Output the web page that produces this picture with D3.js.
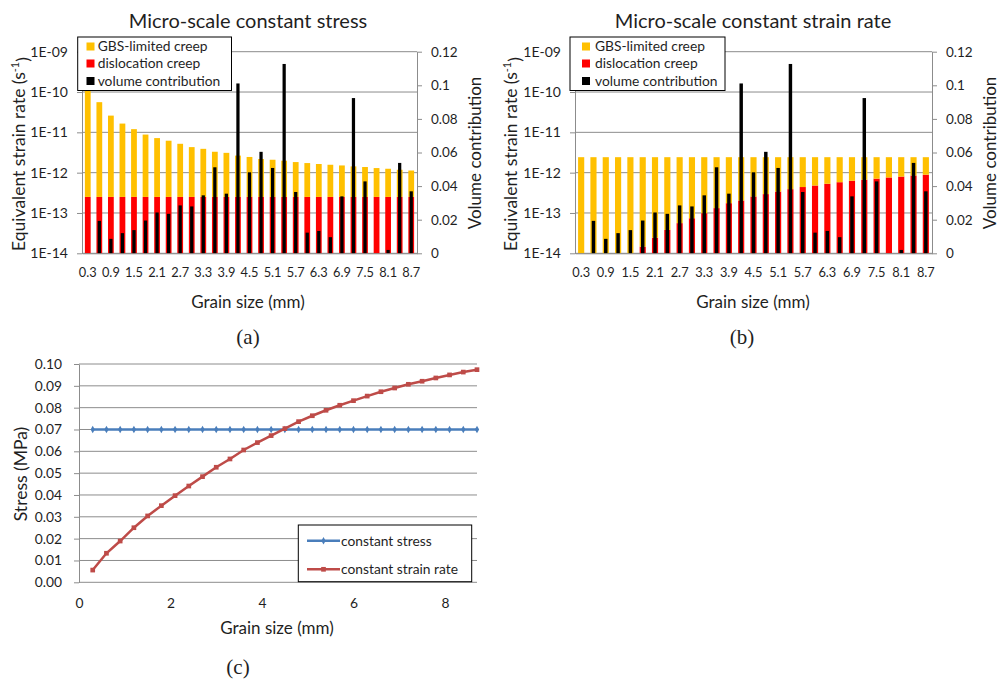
<!DOCTYPE html>
<html>
<head>
<meta charset="utf-8">
<script src="https://cdn.jsdelivr.net/npm/d3@7"></script>
<style>
  body { margin: 0; background: #fff; }
  svg { display: block; font-family: Lato, 'Open Sans', sans-serif; }
</style>
</head>
<body>
<svg id="chart" width="999" height="679"></svg>
<script>
// grain sizes (mm) shared by all three panels
const grainSizes = [0.3, 0.6, 0.9, 1.2, 1.5, 1.8, 2.1, 2.4, 2.7, 3.0, 3.3, 3.6, 3.9, 4.2, 4.5,
                    4.8, 5.1, 5.4, 5.7, 6.0, 6.3, 6.6, 6.9, 7.2, 7.5, 7.8, 8.1, 8.4, 8.7];
const barTickLabels = [0.3, 0.9, 1.5, 2.1, 2.7, 3.3, 3.9, 4.5, 5.1, 5.7, 6.3, 6.9, 7.5, 8.1, 8.7];

// (a) constant stress
const dislocationA = [2.5e-13, 2.5e-13, 2.5e-13, 2.5e-13, 2.5e-13, 2.5e-13, 2.5e-13, 2.5e-13, 2.5e-13, 2.5e-13,
                      2.5e-13, 2.5e-13, 2.5e-13, 2.5e-13, 2.5e-13, 2.5e-13, 2.5e-13, 2.5e-13, 2.5e-13, 2.5e-13,
                      2.5e-13, 2.5e-13, 2.5e-13, 2.5e-13, 2.5e-13, 2.5e-13, 2.5e-13, 2.5e-13, 2.5e-13];
const gbsA = [2.2e-10, 5.575e-11, 2.575e-11, 1.625e-11, 1.175e-11, 8.55e-12, 6.95e-12, 5.95e-12, 4.95e-12, 4.05e-12,
              3.65e-12, 3.05e-12, 2.85e-12, 2.4e-12, 2.2e-12, 1.93e-12, 1.84e-12, 1.73e-12, 1.58e-12, 1.48e-12,
              1.39e-12, 1.32e-12, 1.26e-12, 1.18e-12, 1.13e-12, 1.05e-12, 1.0e-12, 9.3e-13, 8.8e-13];

// (b) constant strain rate
const dislocationB = [1e-16, 6e-16, 2e-15, 4e-15, 8e-15, 1.46e-14, 2.44e-14, 3.8e-14, 5.6e-14, 7.4e-14,
                      9.9e-14, 1.32e-13, 1.75e-13, 2.04e-13, 2.56e-13, 2.94e-13, 3.4e-13, 3.9e-13, 4.4e-13, 4.8e-13,
                      5.3e-13, 5.8e-13, 6.3e-13, 6.7e-13, 7.1e-13, 7.6e-13, 8.0e-13, 8.5e-13, 8.9e-13];
const gbsB = [2.42e-12, 2.419e-12, 2.418e-12, 2.416e-12, 2.412e-12, 2.405e-12, 2.396e-12, 2.382e-12, 2.364e-12, 2.346e-12,
              2.321e-12, 2.288e-12, 2.245e-12, 2.216e-12, 2.164e-12, 2.126e-12, 2.08e-12, 2.03e-12, 1.98e-12, 1.94e-12,
              1.89e-12, 1.84e-12, 1.79e-12, 1.75e-12, 1.71e-12, 1.66e-12, 1.62e-12, 1.57e-12, 1.53e-12];

// volume contribution (same in a and b)
const volume = [0, 0.0193, 0.0086, 0.012, 0.0138, 0.0195, 0.0243, 0.0235, 0.0285, 0.0279,
                0.0345, 0.0512, 0.0355, 0.1011, 0.0482, 0.0604, 0.0508, 0.1127, 0.0365, 0.0123,
                0.0133, 0.0096, 0.0339, 0.0924, 0.0428, 0, 0.002, 0.0538, 0.0369];

// (c) stress
const stressConstStress = [0.07, 0.07, 0.07, 0.07, 0.07, 0.07, 0.07, 0.07, 0.07, 0.07,
                           0.07, 0.07, 0.07, 0.07, 0.07, 0.07, 0.07, 0.07, 0.07, 0.07,
                           0.07, 0.07, 0.07, 0.07, 0.07, 0.07, 0.07, 0.07, 0.07];
const stressConstRate = [0.0056, 0.0133, 0.0189, 0.025, 0.0304, 0.0351, 0.0397, 0.0441, 0.0484, 0.0527,
                         0.0565, 0.0606, 0.064, 0.0672, 0.0704, 0.0736, 0.0763, 0.0788, 0.0811, 0.0832,
                         0.0853, 0.0873, 0.089, 0.0907, 0.0921, 0.0936, 0.095, 0.0963, 0.0974];

const rateTicks = [1e-14, 1e-13, 1e-12, 1e-11, 1e-10, 1e-9];
const volumeTicks = [0, 0.02, 0.04, 0.06, 0.08, 0.1, 0.12];
const stressTicks = [0, 0.01, 0.02, 0.03, 0.04, 0.05, 0.06, 0.07, 0.08, 0.09, 0.1];
const grainTicks = [0, 2, 4, 6, 8];

const creepColors = { dislocation: '#ff0000', gbs: '#ffc000' };
const gridColor = '#8c8c8c';
const textColor = '#1f1f1f';
const barTop = 51.7, barBottom = 253.3;

const svg = d3.select('#chart');
svg.append('rect').attr('width', 999).attr('height', 679).attr('fill', '#fff');

function styleAxis(sel, size) {
    sel.selectAll('path, line').attr('stroke', gridColor);
    sel.selectAll('text').attr('fill', textColor).attr('font-size', size);
    sel.attr('font-family', null);
}

function drawBarPanel(cfg) {
    const g = svg.append('g');
    const x = d3.scaleBand().domain(grainSizes).range([cfg.left, cfg.right])
        .paddingInner(0.5).paddingOuter(0.25);
    const xVol = d3.scaleBand().domain(grainSizes).range([cfg.left, cfg.right])
        .paddingInner(0.72).paddingOuter(0.36);
    const y = d3.scaleLog().domain([1e-14, 1e-9]).range([barBottom, barTop]);
    const yVol = d3.scaleLinear().domain([0, 0.12]).range([barBottom, barTop]);

    g.append('g').selectAll('line').data(rateTicks).join('line')
        .attr('x1', cfg.left).attr('x2', cfg.right)
        .attr('y1', d => y(d)).attr('y2', d => y(d))
        .attr('stroke', gridColor);

    const rows = grainSizes.map((s, i) => ({ size: s, dislocation: cfg.dislocation[i], gbs: cfg.gbs[i] }));
    const stacked = d3.stack().keys(['dislocation', 'gbs'])(rows);
    const floor = v => Math.max(v, 1e-14);

    g.append('g').selectAll('g').data(stacked).join('g')
        .attr('fill', d => creepColors[d.key])
        .selectAll('rect').data(d => d).join('rect')
        .attr('x', d => x(d.data.size))
        .attr('width', x.bandwidth())
        .attr('y', d => y(floor(d[1])))
        .attr('height', d => y(floor(d[0])) - y(floor(d[1])));

    g.append('g').selectAll('rect').data(grainSizes).join('rect')
        .attr('x', d => xVol(d))
        .attr('width', xVol.bandwidth())
        .attr('y', (d, i) => yVol(volume[i]))
        .attr('height', (d, i) => barBottom - yVol(volume[i]))
        .attr('fill', '#000');

    g.append('g').attr('transform', `translate(${cfg.left},0)`)
        .call(d3.axisLeft(y).tickValues(rateTicks).tickSize(5).tickSizeOuter(0).tickPadding(9)
            .tickFormat(d => '1E-' + String(Math.round(-Math.log10(d))).padStart(2, '0')))
        .call(s => styleAxis(s, 14));

    g.append('g').attr('transform', `translate(${cfg.right},0)`)
        .call(d3.axisRight(yVol).tickValues(volumeTicks).tickSize(5).tickSizeOuter(0).tickPadding(9)
            .tickFormat(d => String(d)))
        .call(s => styleAxis(s, 13.5));

    g.append('g').attr('transform', `translate(0,${barBottom})`)
        .call(d3.axisBottom(x).tickValues(barTickLabels).tickSize(0).tickPadding(15)
            .tickFormat(d => d.toFixed(1)))
        .call(s => styleAxis(s, 12.8));

    // legend
    const lg = g.append('g');
    lg.append('rect').attr('x', cfg.legend.x).attr('y', 37).attr('width', cfg.legend.w).attr('height', 53.5)
        .attr('fill', '#fff').attr('stroke', '#000');
    const items = [['GBS-limited creep', creepColors.gbs], ['dislocation creep', creepColors.dislocation],
                   ['volume contribution', '#000']];
    const rowY = [46.5, 63.5, 81];
    items.forEach(([label, color], i) => {
        lg.append('rect').attr('x', cfg.legend.swatchX).attr('y', rowY[i] - 4).attr('width', 8).attr('height', 8)
            .attr('fill', color);
        lg.append('text').attr('x', cfg.legend.textX).attr('y', rowY[i]).attr('dy', '0.35em')
            .attr('font-size', 13.8).attr('fill', textColor).text(label);
    });

    g.append('text').attr('x', cfg.titleX).attr('y', 21).attr('dy', '0.35em').attr('text-anchor', 'middle')
        .attr('font-size', 20).attr('fill', textColor).text(cfg.title);

    const yl = g.append('text').attr('transform', `translate(${cfg.yTitleX},154) rotate(-90)`)
        .attr('text-anchor', 'middle').attr('dy', '0.35em').attr('font-size', 17.5).attr('fill', textColor);
    yl.append('tspan').text('Equivalent strain rate (s');
    yl.append('tspan').attr('font-size', 11).attr('dy', '-0.6em').text('-1');
    yl.append('tspan').attr('dy', '0.6em').text(')');

    g.append('text').attr('transform', `translate(${cfg.vTitleX},153) rotate(-90)`)
        .attr('text-anchor', 'middle').attr('dy', '0.35em').attr('font-size', 17).attr('fill', textColor)
        .text('Volume contribution');

    g.append('text').attr('x', cfg.xTitleX).attr('y', 302).attr('dy', '0.35em').attr('text-anchor', 'middle')
        .attr('font-size', 17).attr('fill', textColor).text('Grain size (mm)');

    g.append('text').attr('x', cfg.tagX).attr('y', 337).attr('dy', '0.35em').attr('text-anchor', 'middle')
        .attr('font-family', "'Liberation Serif', serif").attr('font-size', 21).attr('fill', textColor)
        .text(cfg.tag);
}

drawBarPanel({
    left: 82, right: 417, dislocation: dislocationA, gbs: gbsA,
    title: 'Micro-scale constant stress', titleX: 248,
    legend: { x: 77.7, w: 153.8, swatchX: 86.5, textX: 97.7 },
    yTitleX: 19, vTitleX: 475, xTitleX: 248, tagX: 248, tag: '(a)'
});

drawBarPanel({
    left: 575, right: 932, dislocation: dislocationB, gbs: gbsB,
    title: 'Micro-scale constant strain rate', titleX: 753,
    legend: { x: 570, w: 155, swatchX: 582, textX: 595 },
    yTitleX: 511, vTitleX: 990, xTitleX: 753, tagX: 742, tag: '(b)'
});

// (c) stress vs grain size
function drawLinePanel() {
    const g = svg.append('g');
    const x = d3.scaleLinear().domain([0, 8.7]).range([79, 477]);
    const y = d3.scaleLinear().domain([0, 0.1]).range([582.3, 364]);

    g.append('g').selectAll('line').data(stressTicks).join('line')
        .attr('x1', 79).attr('x2', 477)
        .attr('y1', d => y(d)).attr('y2', d => y(d))
        .attr('stroke', gridColor);

    g.append('g').attr('transform', 'translate(79,0)')
        .call(d3.axisLeft(y).tickValues(stressTicks).tickSize(5).tickSizeOuter(0).tickPadding(12)
            .tickFormat(d3.format('.2f')))
        .call(s => styleAxis(s, 13.8));

    g.append('g').attr('transform', 'translate(0,582.3)')
        .call(d3.axisBottom(x).tickValues(grainTicks).tickSize(0).tickPadding(16))
        .call(s => styleAxis(s, 13.8))
        .call(s => s.select('.domain').remove());

    const series = [
        { name: 'constant stress', values: stressConstStress, color: '#4a7ebb', symbol: d3.symbolDiamond, size: 16 },
        { name: 'constant strain rate', values: stressConstRate, color: '#be4b48', symbol: d3.symbolSquare, size: 22 }
    ];
    const line = d3.line().x(d => x(d[0])).y(d => y(d[1]));

    series.forEach(s => {
        const pts = grainSizes.map((gs, i) => [gs, s.values[i]]);
        g.append('path').datum(pts).attr('d', line)
            .attr('fill', 'none').attr('stroke', s.color).attr('stroke-width', 2.5);
        g.append('g').selectAll('path').data(pts).join('path')
            .attr('transform', d => `translate(${x(d[0])},${y(d[1])})`)
            .attr('d', d3.symbol(s.symbol, s.size))
            .attr('fill', s.color);
    });

    const lg = g.append('g');
    lg.append('rect').attr('x', 298.3).attr('y', 525).attr('width', 173.4).attr('height', 56.7)
        .attr('fill', '#fff').attr('stroke', '#000');
    series.forEach((s, i) => {
        const ly = [540.7, 569.3][i];
        lg.append('line').attr('x1', 307).attr('x2', 340).attr('y1', ly).attr('y2', ly)
            .attr('stroke', s.color).attr('stroke-width', 2.5);
        lg.append('path').attr('transform', `translate(323.5,${ly})`)
            .attr('d', d3.symbol(s.symbol, s.size)).attr('fill', s.color);
        lg.append('text').attr('x', 341).attr('y', ly).attr('dy', '0.35em')
            .attr('font-size', 13.8).attr('fill', textColor).text(s.name);
    });

    g.append('text').attr('transform', 'translate(21,474) rotate(-90)')
        .attr('text-anchor', 'middle').attr('dy', '0.35em').attr('font-size', 17.5).attr('fill', textColor)
        .text('Stress (MPa)');

    g.append('text').attr('x', 277).attr('y', 628).attr('dy', '0.35em').attr('text-anchor', 'middle')
        .attr('font-size', 17).attr('fill', textColor).text('Grain size (mm)');

    g.append('text').attr('x', 238).attr('y', 667).attr('dy', '0.35em').attr('text-anchor', 'middle')
        .attr('font-family', "'Liberation Serif', serif").attr('font-size', 21).attr('fill', textColor)
        .text('(c)');
}

drawLinePanel();
</script>
</body>
</html>
